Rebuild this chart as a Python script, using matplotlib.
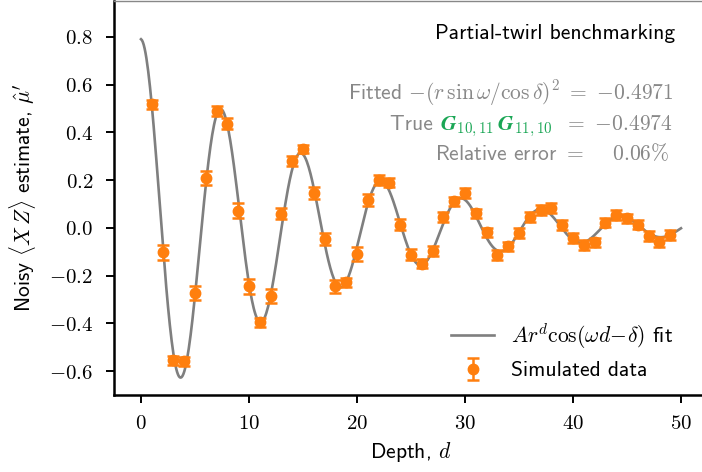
import numpy as np
import matplotlib
matplotlib.use("Agg")
import matplotlib.pyplot as plt
from matplotlib.ticker import FuncFormatter

plt.rcParams['font.family'] = ['cmss10', 'DejaVu Sans']
plt.rcParams['mathtext.fontset'] = 'cm'
plt.rcParams['axes.unicode_minus'] = False

# simulated data
depth = np.arange(1, 50)
mu = [0.517, -0.103, -0.555, -0.559, -0.273, 0.210, 0.489, 0.436, 0.072, -0.245,
      -0.396, -0.286, 0.060, 0.280, 0.330, 0.145, -0.047, -0.245, -0.228, -0.109,
      0.117, 0.201, 0.189, 0.014, -0.112, -0.150, -0.096, 0.046, 0.111, 0.145,
      0.061, -0.019, -0.114, -0.078, -0.022, 0.046, 0.074, 0.082, 0.011, -0.043,
      -0.071, -0.061, 0.022, 0.053, 0.040, 0.014, -0.033, -0.060, -0.031]
err = [0.020, 0.030, 0.020, 0.020, 0.030, 0.030, 0.020, 0.022, 0.030, 0.030,
       0.018, 0.028, 0.025, 0.022, 0.018, 0.025, 0.025, 0.028, 0.020, 0.028,
       0.025, 0.020, 0.020, 0.022, 0.022, 0.020, 0.020, 0.020, 0.020, 0.020,
       0.020, 0.020, 0.020, 0.020, 0.020, 0.020, 0.020, 0.020, 0.020, 0.020,
       0.020, 0.020, 0.020, 0.020, 0.020, 0.020, 0.020, 0.020, 0.020]

# fitted model A r^d cos(w d - delta)
A_fit, r_fit, omega_fit, delta_fit = 0.7906, 0.9395, 0.848, 0.04
d_fine = np.linspace(0, 50, 600)
fit = A_fit * r_fit**d_fine * np.cos(omega_fit * d_fine - delta_fit)

W, H = 702, 472
fig = plt.figure(figsize=(W / 100, H / 100), dpi=100)
ax = fig.add_axes([114 / W, 1 - 395 / H, 594 / W, 394 / H])

ax.plot(d_fine, fit, color='#7f7f7f', lw=1.9,
        label=r'$Ar^d\cos(\omega d\!-\!\delta)$ fit')
ax.errorbar(depth, mu, yerr=err, fmt='o', color='#ff7f0e', ms=7.5,
            elinewidth=1.8, capsize=4, capthick=1.8, label='Simulated data')

ax.set_xlim(-2.5, 52.5)
ax.set_ylim(-0.7, 0.95)
ax.set_xticks([0, 10, 20, 30, 40, 50])
ax.set_yticks([-0.6, -0.4, -0.2, 0.0, 0.2, 0.4, 0.6, 0.8])
ax.xaxis.set_major_formatter(FuncFormatter(lambda v, p: r'$%d$' % v))
ax.yaxis.set_major_formatter(FuncFormatter(lambda v, p: r'$%.1f$' % v))
ax.tick_params(labelsize=15, length=6, width=1.4, direction='out')
ax.tick_params(axis='x', pad=8)
ax.tick_params(axis='y', pad=9)
for s in ['left', 'bottom']:
    ax.spines[s].set_linewidth(1.8)
for s in ['top', 'right']:
    ax.spines[s].set_color('#888888')
    ax.spines[s].set_linewidth(1.0)

fs = 15.5
ax.set_xlabel(r'Depth, $d$', fontsize=fs, labelpad=5)
ax.set_ylabel(r"Noisy $\langle X\,Z\rangle$ estimate, $\hat{\mu}'$", fontsize=fs,
              labelpad=8)

ax.legend(loc='lower right', frameon=False, fontsize=fs, borderaxespad=0,
          bbox_to_anchor=((682 - 114) / 594, (395 - 389) / 394))

gray = '#888888'
green = '#1aa655'


def fx(px):
    return px / W


def fy(py):
    return 1 - py / H


fig.text(fx(675), fy(39), 'Partial-twirl benchmarking', fontsize=fs,
         ha='right', va='baseline')
fig.text(fx(673), fy(100),
         r'Fitted $-(r\,\sin\omega/\cos\delta)^2\;=$ $-0.4971$',
         fontsize=fs, color=gray, ha='right', va='baseline')

# line with coloured pieces, right aligned
fig.canvas.draw()
rend = fig.canvas.get_renderer()
pieces = [('True ', gray), (r'$\mathbfit{G}_{10,11}\,\mathbfit{G}_{11,10}$', green),
          (r'$\;\;=$ $-0.4974$', gray)]
x_right = 673
for txt, col in reversed(pieces):
    t = fig.text(fx(x_right), fy(130), txt, fontsize=fs, color=col,
                 ha='right', va='baseline')
    x_right -= t.get_window_extent(rend).width

fig.text(fx(669), fy(160), r'Relative error $=\ \ \ \ 0.06\%$', fontsize=fs,
         color=gray, ha='right', va='baseline')

fig.savefig('out.png', dpi=100)
